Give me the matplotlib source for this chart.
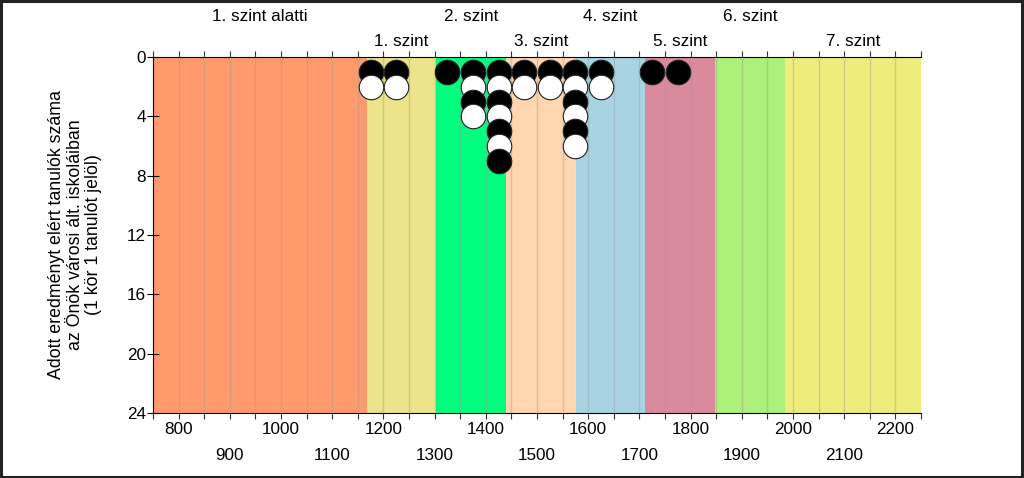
import matplotlib
matplotlib.use("Agg")
import matplotlib.pyplot as plt
from matplotlib.patches import Rectangle

plt.rcParams['font.family'] = ['Liberation Sans', 'DejaVu Sans']

# Level bands (score boundaries) and names
band_edges = [750, 1168, 1303, 1439, 1576, 1711, 1848, 1984, 2250]
band_names = ["1. szint alatti", "1. szint", "2. szint", "3. szint",
              "4. szint", "5. szint", "6. szint", "7. szint"]
band_colors = ["#FF9A6C", "#EDE38A", "#00FF7F", "#FFD6B0",
               "#A8D3E2", "#D98A9C", "#ADF07A", "#EEEC7A"]

# Students: score bin position and count of students at that position
score_bins = [1175, 1225, 1325, 1375, 1425, 1475, 1525, 1575, 1625, 1725, 1775]
counts = [2, 2, 1, 4, 7, 2, 2, 6, 2, 1, 1]

xticks_major = list(range(800, 2201, 100))
xticks_minor = list(range(750, 2251, 50))
yticks = [0, 4, 8, 12, 16, 20, 24]

FS = 12.3

fig = plt.figure(figsize=(10.24, 4.78), dpi=100)
ax = fig.add_axes([153/1024, 1-413/478, (921-153)/1024, (413-57)/478])

for i in range(len(band_names)):
    ax.axvspan(band_edges[i], band_edges[i+1], color=band_colors[i], lw=0, zorder=0)

for x in xticks_minor[1:-1]:
    ax.axvline(x, color="#9a9a9a", alpha=0.4, lw=1, zorder=1)

for xb, c in zip(score_bins, counts):
    for k in range(1, c+1):
        ax.scatter([xb], [k], s=(24.5*0.72)**2,
                   color="black" if k % 2 == 1 else "white",
                   edgecolors="#222222", linewidths=0.8, zorder=3+k)

ax.set_xlim(750, 2250)
ax.set_ylim(24, 0)

ax.set_xticks(xticks_major)
ax.set_xticks(xticks_minor, minor=True)
ax.set_xticklabels([str(v) for v in xticks_major], fontsize=FS)
for i, t in enumerate(ax.xaxis.get_major_ticks()):
    t.set_pad(2.5 if i % 2 == 0 else 21)
ax.tick_params(axis='x', which='both', direction='out', length=4, top=True,
               width=0.8, color="#333333")
ax.set_yticks(yticks)
ax.set_yticklabels([str(v) for v in yticks], fontsize=FS)
ax.tick_params(axis='y', direction='inout', length=8, width=0.8, pad=1)

ax.spines['left'].set_linewidth(0.8)
ax.spines['bottom'].set_linewidth(0.8)
ax.spines['top'].set_linewidth(0.8)
ax.spines['right'].set_visible(False)

trans = ax.get_xaxis_transform()
for i, name in enumerate(band_names):
    xc = (band_edges[i] + band_edges[i+1]) / 2
    yy = 1.113 if i % 2 == 0 else 1.043
    ax.text(xc, yy, name, transform=trans, ha='center', va='center', fontsize=FS)

fig.text(75/1024, 1-235/478,
         "Adott eredményt elért tanulók száma\naz Önök városi ált. iskoláiban\n(1 kör 1 tanulót jelöl)",
         rotation=90, ha='center', va='center', fontsize=12.8, linespacing=1.15)

fig.patches.append(Rectangle((0.001, 0.002), 0.997, 0.996, transform=fig.transFigure,
                             fill=False, edgecolor='#222222', lw=2.2))

fig.savefig("out.png", dpi=100)
